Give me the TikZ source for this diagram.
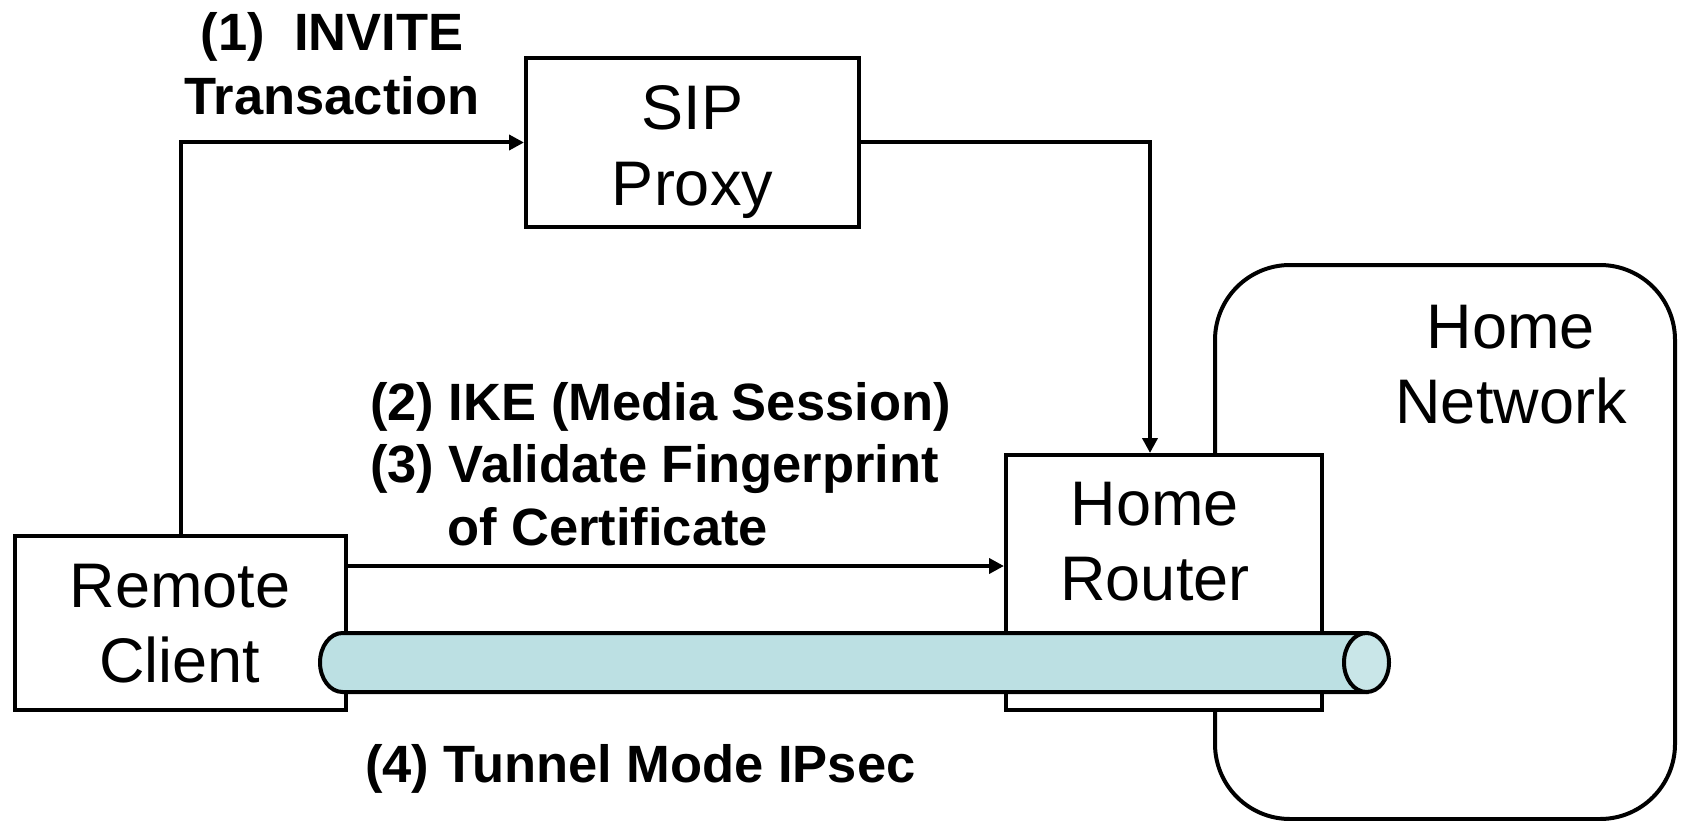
\documentclass[tikz,border=0pt]{standalone}
\usepackage{fontspec}
\setmainfont{Liberation Sans}
\usetikzlibrary{arrows.meta}
\definecolor{tunnelbody}{RGB}{188,224,227}
\definecolor{tunnelface}{RGB}{201,230,232}
\begin{document}
\begin{tikzpicture}[x=1pt,y=-1pt,
  box/.style={draw,line width=4pt,fill=white,inner sep=0pt},
  conn/.style={line width=4pt,-{Triangle[length=15pt,width=15pt]}},
  big/.style={font=\fontsize{63}{75}\selectfont,inner sep=0pt,anchor=base},
  boldlbl/.style={font=\fontsize{52.5}{63}\selectfont\bfseries,inner sep=0pt},
  tube/.style={line width=4pt}
]
\useasboundingbox (0,0) rectangle (1683,821);
% home network area
\node[draw,line width=4pt,rounded corners=75pt,inner sep=0pt,
      minimum width=460pt,minimum height=554pt] (homenet) at (1445,542) {};
% boxes
\node[box,minimum width=316pt,minimum height=255pt] (router) at (1164,582.5) {};
\node[box,minimum width=333pt,minimum height=169pt] (sip) at (692.5,142.5) {};
\node[box,minimum width=331pt,minimum height=174pt] (client) at (180.5,623) {};
% connectors
\draw[conn] (client.north) |- (sip.west);
\draw[conn] (sip.east) -| ([xshift=-14pt]router.north);
\coordinate (ikestart) at ([yshift=57pt]client.east);
\draw[conn] (ikestart) -- (ikestart -| router.west);
% tunnel
\filldraw[tube,fill=tunnelbody] (1366.5,633) -- (342.5,633)
   arc[start angle=90,end angle=270,x radius=22.5pt,y radius=29.5pt]
   -- (1366.5,692) -- cycle;
\filldraw[tube,fill=tunnelface] (1366.5,662.5) ellipse [x radius=22.5pt,y radius=29.5pt];
% box texts
\node[big] (sipa) at (692.5,130) {SIP};
\node[big] (sipb) at (692.5,205) {Proxy};
\node[big] (clienta) at (180,607) {Remote};
\node[big] (clientb) at (180,682) {Client};
\node[big] (routera) at (1155,525) {Home};
\node[big] (routerb) at (1155,600) {Router};
\node[big] (neta) at (1511,348) {Home};
\node[big] (netb) at (1511,423) {Network};
% step labels
\node[boldlbl,anchor=base] (invite) at (332,51) {(1)\ \ INVITE};
\node[boldlbl,anchor=base] (trans) at (332,115) {Transaction};
\node[boldlbl,anchor=base west] (ike) at (370,420) {(2) IKE (Media Session)};
\node[boldlbl,anchor=base west] (valid) at (370,482) {(3) Validate Fingerprint};
\node[boldlbl,anchor=base west] (cert) at (447,545) {of Certificate};
\node[boldlbl,anchor=base west] (ipsec) at (365,782) {(4) Tunnel Mode IPsec};
\end{tikzpicture}
\end{document}
